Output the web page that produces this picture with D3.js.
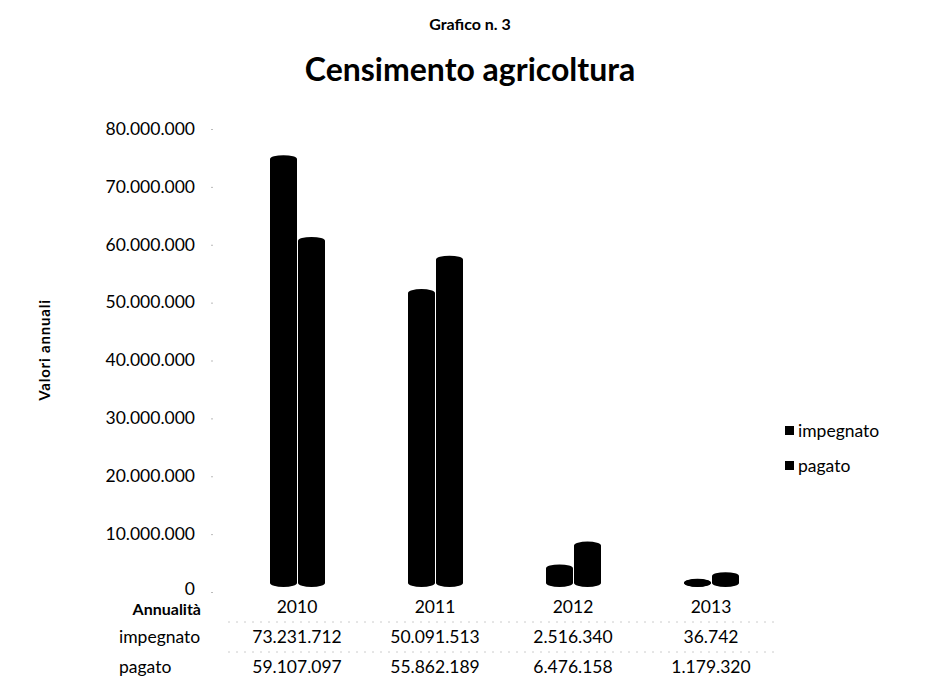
<!DOCTYPE html>
<html><head><meta charset="utf-8">
<script src="https://cdn.jsdelivr.net/npm/d3@7/dist/d3.min.js"></script>
<style>body{margin:0;background:#fff}svg{display:block}text{font-family:Lato,"Noto Sans",sans-serif;fill:#000}</style>
</head><body>
<script>
const years = ["2010","2011","2012","2013"];
const seriesNames = ["impegnato","pagato"];
const impegnato = [73231712, 50091513, 2516340, 36742];
const pagato = [59107097, 55862189, 6476158, 1179320];
const impegnatoLabels = ["73.231.712","50.091.513","2.516.340","36.742"];
const pagatoLabels = ["59.107.097","55.862.189","6.476.158","1.179.320"];
const yTicks = [0,10000000,20000000,30000000,40000000,50000000,60000000,70000000,80000000];

const W=944,H=683;
const svg=d3.select("body").append("svg").attr("width",W).attr("height",H);
const x=d3.scaleBand().domain(years).range([228,780]);
const xs=d3.scaleBand().domain(seriesNames).range([0,56]);
const y=d3.scaleLinear().domain([0,80000000]).range([592,129]);
const fmt=v=>d3.format(",")(v).replace(/,/g,".");
const FS=17.5;

svg.append("text").attr("x",470).attr("y",30).attr("text-anchor","middle").attr("font-weight","bold").attr("font-size",16).text("Grafico n. 3");
svg.append("text").attr("x",470).attr("y",81).attr("text-anchor","middle").attr("font-weight","bold").attr("font-size",32).text("Censimento agricoltura");

const ax=svg.append("g").attr("transform","translate(213,0)").call(d3.axisLeft(y).tickValues(yTicks).tickFormat(fmt).tickSize(2).tickPadding(16));
ax.select(".domain").remove();
ax.selectAll(".tick line").attr("stroke","#bbb");
ax.selectAll(".tick text").attr("font-size",FS).attr("dy","0.3em").style("font-family","Lato,'Noto Sans',sans-serif");
ax.selectAll(".tick text").filter(d=>d===0).attr("dy","0.15em");

svg.append("text").attr("transform","translate(50,350) rotate(-90)").attr("text-anchor","middle").attr("font-weight","bold").attr("font-size",15).attr("letter-spacing","0.8").text("Valori  annuali");

const off=-9, ry=4;
const data=[];
years.forEach((yr,i)=>{data.push({yr,s:"impegnato",v:impegnato[i]});data.push({yr,s:"pagato",v:pagato[i]});});
const cx=d=>x(d.yr)+x.bandwidth()/2-28+xs(d.s);
const bw=xs.bandwidth();
const g=svg.append("g");
data.forEach(d=>{
  const x0=cx(d)+1, w=bw-1, top=y(d.v)+off, base=y(0)+off;
  g.append("rect").attr("x",x0).attr("y",top).attr("width",w).attr("height",Math.max(0,base-top)).attr("fill","#000");
  g.append("ellipse").attr("cx",x0+w/2).attr("cy",base).attr("rx",w/2).attr("ry",ry).attr("fill","#000");
  g.append("ellipse").attr("cx",x0+w/2).attr("cy",top).attr("rx",w/2).attr("ry",ry).attr("fill","#000");
});

// table
svg.append("text").attr("x",201).attr("y",615).attr("text-anchor","end").attr("font-weight","bold").attr("font-size",16).text("Annualità");
svg.selectAll(".yr").data(years).enter().append("text").attr("x",d=>x(d)+x.bandwidth()/2).attr("y",613).attr("text-anchor","middle").attr("font-size",FS).text(d=>d);
svg.append("text").attr("x",119).attr("y",643).attr("font-size",FS).text("impegnato");
svg.append("text").attr("x",119).attr("y",673).attr("font-size",FS).text("pagato");
svg.selectAll(".r1").data(impegnatoLabels).enter().append("text").attr("x",(d,i)=>x(years[i])+x.bandwidth()/2).attr("y",643).attr("text-anchor","middle").attr("font-size",FS).text(d=>d);
svg.selectAll(".r2").data(pagatoLabels).enter().append("text").attr("x",(d,i)=>x(years[i])+x.bandwidth()/2).attr("y",673).attr("text-anchor","middle").attr("font-size",FS).text(d=>d);
[622,652].forEach(yy=>svg.append("line").attr("x1",228).attr("x2",780).attr("y1",yy).attr("y2",yy).attr("stroke","#ccc").attr("stroke-dasharray","2,6"));

// legend
const lg=svg.append("g");
seriesNames.forEach((s,i)=>{
  lg.append("rect").attr("x",785).attr("y",426+i*35).attr("width",9).attr("height",9).attr("fill","#000");
  lg.append("text").attr("x",798).attr("y",437+i*35).attr("font-size",FS).text(s);
});
</script>
</body></html>
